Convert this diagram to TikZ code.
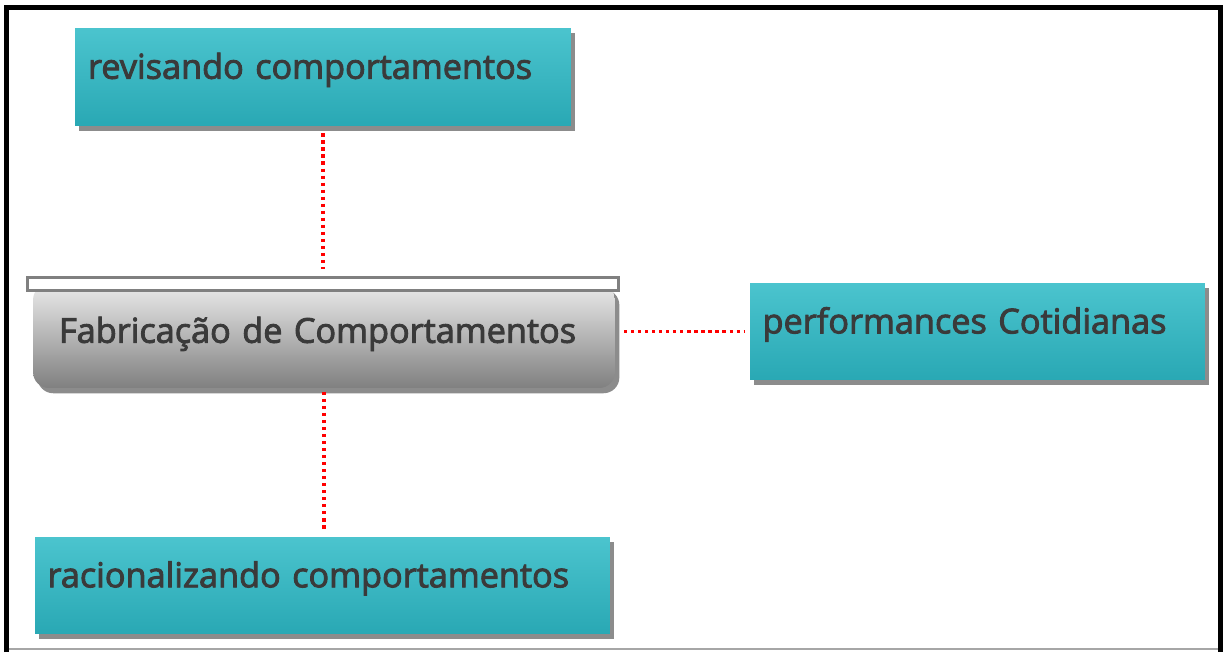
\documentclass[tikz,border=0pt]{standalone}
\usepackage{fontspec}
\setmainfont{Open Sans}[FakeBold=2.6]
\usepackage{tikz}
\usetikzlibrary{shadows}
\definecolor{tealtop}{HTML}{4BC4CE}
\definecolor{tealbot}{HTML}{29A8B4}
\definecolor{boxtext}{HTML}{3A3A3A}
\begin{document}
\begin{tikzpicture}[x=0.02cm,y=-0.02cm,
    tealbox/.style={rectangle,top color=tealtop,bottom color=tealbot,
      drop shadow={shadow xshift=2.5pt,shadow yshift=-3pt,fill=black!75,opacity=.6},
      font=\fontsize{19.5}{22}\selectfont,text=boxtext,align=left,inner sep=0pt},
    greybox/.style={rectangle,rounded corners=9pt,top color=black!8,bottom color=black!50,
      drop shadow={shadow xshift=2.5pt,shadow yshift=-3pt,fill=black!75,opacity=.6},
      font=\fontsize{19.5}{22}\selectfont,text=boxtext,align=left,inner sep=0pt},
    link/.style={red,line width=1.9pt,dash pattern=on 1.8pt off 2.2pt}]
  \useasboundingbox (0,0) rectangle (1226,652);
  \fill[white] (0,0) rectangle (1226,652);
  \draw[black!35,line width=0.8pt] (7,649) -- (1220,649);
  \draw[black,line width=2.9pt] (6.5,652) -- (6.5,7.5) -- (1220.5,7.5) -- (1220.5,652);

  \node[tealbox,minimum width=9.92cm,minimum height=1.96cm,text width=9.4cm,text depth=0.45cm] (rev) at (323,77) {revisando comportamentos};
  \node[tealbox,minimum width=9.1cm,minimum height=1.94cm,text width=8.6cm,text depth=0.45cm] (perf) at (977.5,331.5) {performances Cotidianas};
  \node[tealbox,minimum width=11.5cm,minimum height=1.94cm,text width=11.0cm,text depth=0.45cm] (rac) at (322.5,585.5) {racionalizando comportamentos};
  \node[greybox,minimum width=11.64cm,minimum height=2.08cm,text width=10.6cm,text depth=0.25cm] (fab) at (324,336) {Fabricação de Comportamentos};
  \node[draw=black!50,fill=white,line width=1.7pt,minimum width=11.84cm,minimum height=0.26cm,inner sep=0pt] (fabtop) at (323,284) {};

  \draw[link,shorten <=4pt,shorten >=4pt] (rev.south -| fabtop.north) -- (fabtop.north);
  \draw[link,shorten <=2pt,shorten >=3pt] (fab.south) -- (rac.north -| fab.south);
  \draw[link,shorten <=5pt,shorten >=3pt] (fab.east |- perf.west) -- (perf.west);
\end{tikzpicture}
\end{document}
